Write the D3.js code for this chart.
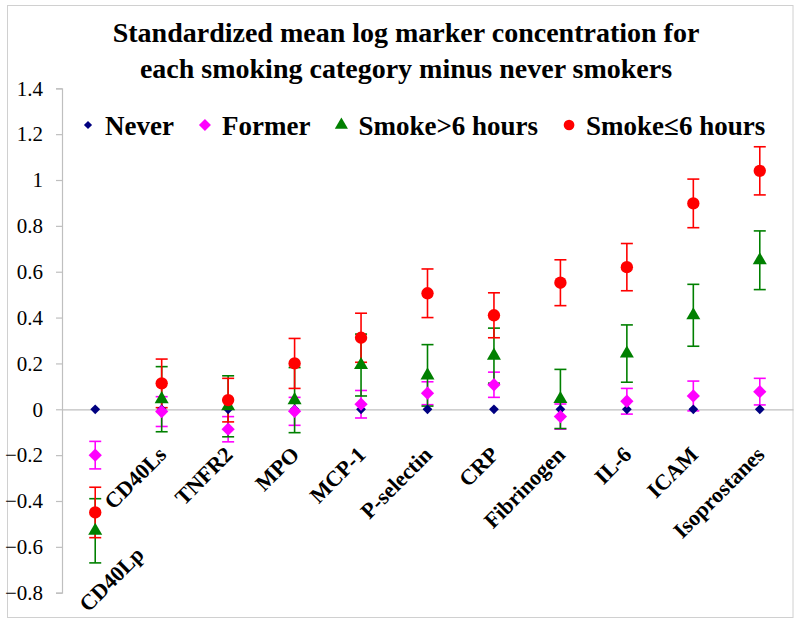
<!DOCTYPE html>
<html>
<head>
<meta charset="utf-8">
<script src="https://cdn.jsdelivr.net/npm/d3@7"></script>
<style>
  html, body { margin: 0; padding: 0; background: #fff; }
  svg { display: block; }
</style>
</head>
<body>
<svg id="chart" width="800" height="629"></svg>
<script>
// ---- Data ----
const categories = ["CD40Lp", "CD40Ls", "TNFR2", "MPO", "MCP-1", "P-selectin", "CRP", "Fibrinogen", "IL-6", "ICAM", "Isoprostanes"];
const seriesNames = ["Never", "Former", "Smoke>6 hours", "Smoke\u22646 hours"];
const neverValues   = [0, 0, 0, 0, 0, 0, 0, 0, 0, 0, 0];
const neverErr      = [0, 0, 0, 0, 0, 0, 0, 0, 0, 0, 0];
const formerValues  = [-0.20, -0.01, -0.087, -0.009, 0.022, 0.070, 0.107, -0.032, 0.035, 0.058, 0.077];
const formerErr     = [0.060, 0.065, 0.055, 0.061, 0.060, 0.050, 0.055, 0.055, 0.056, 0.065, 0.058];
const smokeGt6Values = [-0.53, 0.044, 0.013, 0.04, 0.193, 0.148, 0.234, 0.045, 0.243, 0.410, 0.650];
const smokeGt6Err    = [0.140, 0.142, 0.133, 0.142, 0.135, 0.134, 0.120, 0.129, 0.125, 0.135, 0.128];
const smokeLe6Values = [-0.45, 0.113, 0.040, 0.200, 0.312, 0.506, 0.410, 0.552, 0.620, 0.898, 1.040];
const smokeLe6Err    = [0.110, 0.106, 0.095, 0.109, 0.107, 0.106, 0.098, 0.100, 0.103, 0.106, 0.105];
const yTicks = [-0.8, -0.6, -0.4, -0.2, 0, 0.2, 0.4, 0.6, 0.8, 1, 1.2, 1.4];
const titleLines = ["Standardized mean log marker concentration for", "each smoking category minus never smokers"];

// ---- Layout / style ----
const W = 800, H = 629;
const plot = { left: 62, right: 793, top: 88.3, bottom: 592.7 };
const serif = "'Times New Roman', 'Liberation Serif', 'DejaVu Serif', serif";
const styles = [
  { color: "#000080", shape: d3.symbolSquare, rot: 45, size: 48, legendSize: 34 },
  { color: "#FF00FF", shape: d3.symbolSquare, rot: 45, size: 88, legendSize: 72 },
  { color: "#008000", shape: d3.symbolTriangle, rot: 0, size: 85, legendSize: 75 },
  { color: "#FF0000", shape: d3.symbolCircle, rot: 0, size: 120, legendSize: 90 }
];
const series = [
  { name: seriesNames[0], values: neverValues, err: neverErr },
  { name: seriesNames[1], values: formerValues, err: formerErr },
  { name: seriesNames[2], values: smokeGt6Values, err: smokeGt6Err },
  { name: seriesNames[3], values: smokeLe6Values, err: smokeLe6Err }
];

const svg = d3.select("#chart");
svg.append("rect").attr("width", W).attr("height", H).attr("fill", "#fff");
// outer chart border
svg.append("rect").attr("x", 7.5).attr("y", 5.5).attr("width", 785.5).attr("height", 612)
  .attr("fill", "none").attr("stroke", "#d0d0d0").attr("stroke-width", 1);

const x = d3.scaleBand().domain(categories).range([plot.left, plot.right]).paddingInner(0).paddingOuter(0);
const y = d3.scaleLinear().domain([-0.8, 1.4]).range([plot.bottom, plot.top]);
const cx = c => x(c) + x.bandwidth() / 2;

// Title
svg.append("g").selectAll("text").data(titleLines).join("text")
  .attr("x", 406).attr("y", (d, i) => 42 + i * 36)
  .attr("text-anchor", "middle")
  .attr("font-family", serif).attr("font-weight", "bold").attr("font-size", 28)
  .attr("fill", "#000").text(d => d);

// Y axis
const yAxis = d3.axisLeft(y).tickValues(yTicks).tickSize(6).tickPadding(13)
  .tickFormat(d => d3.format("")(+d.toFixed(1)));
const gy = svg.append("g").attr("transform", `translate(${plot.left},0)`).call(yAxis);
gy.select(".domain").attr("stroke", "#bfbfbf").attr("stroke-width", 1.2);
gy.selectAll(".tick line").attr("stroke", "#bfbfbf").attr("stroke-width", 1.2);
gy.selectAll(".tick text").attr("font-family", serif).attr("font-size", 21).attr("fill", "#000");

// X axis line at zero
const gx = svg.append("g").attr("transform", `translate(0,${y(0)})`)
  .call(d3.axisBottom(x).tickSize(0).tickFormat(""));
gx.select(".domain").attr("stroke", "#bfbfbf").attr("stroke-width", 1.2);

// Category labels (rotated)
svg.append("g").selectAll("text").data(categories).join("text")
  .attr("transform", (c, i) => {
    const ax = i === 0 ? cx(c) + 50 : cx(c) + 6;
    const ay = i === 0 ? 556 : 456;
    return `translate(${ax},${ay}) rotate(-45)`;
  })
  .attr("text-anchor", "end")
  .attr("font-family", serif).attr("font-weight", "bold").attr("font-size", 22)
  .attr("fill", "#000").text(c => c);

// Error bars
const capW = 6;
series.forEach((s, si) => {
  if (si === 0) return;
  const g = svg.append("g").attr("stroke", styles[si].color).attr("stroke-width", 1.6).attr("fill", "none");
  categories.forEach((c, i) => {
    const v = s.values[i], e = s.err[i];
    const px = cx(c), yt = y(v + e), yb = y(v - e);
    g.append("line").attr("x1", px).attr("x2", px).attr("y1", yt).attr("y2", yb);
    g.append("line").attr("x1", px - capW).attr("x2", px + capW).attr("y1", yt).attr("y2", yt);
    g.append("line").attr("x1", px - capW).attr("x2", px + capW).attr("y1", yb).attr("y2", yb);
  });
});

// Markers
series.forEach((s, si) => {
  const st = styles[si];
  const sym = d3.symbol().type(st.shape).size(st.size);
  svg.append("g").selectAll("path").data(categories).join("path")
    .attr("d", sym)
    .attr("transform", (c, i) => `translate(${cx(c)},${y(s.values[i])}) rotate(${st.rot})`)
    .attr("fill", st.color);
});

// Legend (flow layout)
const legend = svg.append("g");
let lx = 88;
const ly = 135;
series.forEach((s, si) => {
  const st = styles[si];
  legend.append("path").attr("d", d3.symbol().type(st.shape).size(st.legendSize)())
    .attr("transform", `translate(${lx},${ly - 10}) rotate(${st.rot})`).attr("fill", st.color);
  const t = legend.append("text").attr("x", lx + 17).attr("y", ly)
    .attr("font-family", serif).attr("font-weight", "bold").attr("font-size", 27)
    .attr("fill", "#000").text(s.name);
  lx = lx + 17 + t.node().getComputedTextLength() + 31;
});
</script>
</body>
</html>
